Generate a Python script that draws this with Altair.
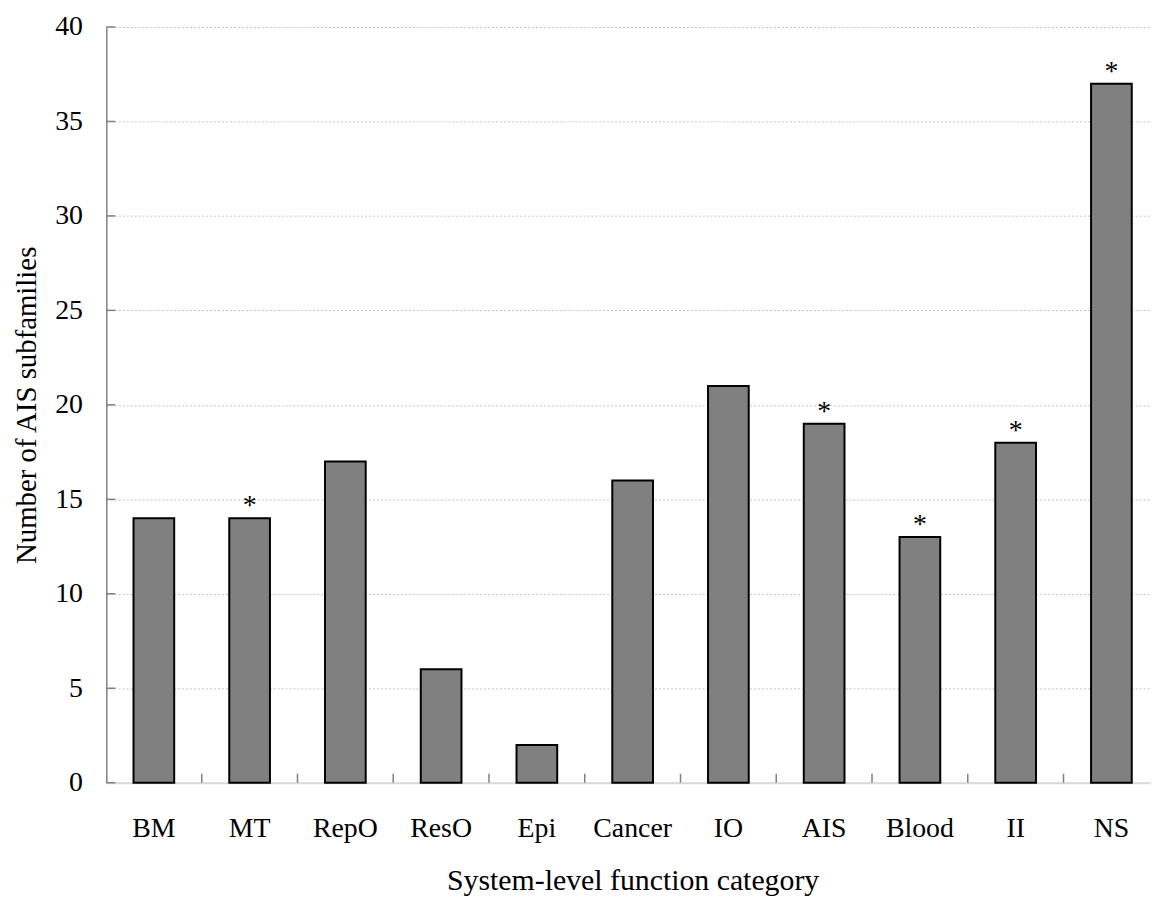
import altair as alt
import pandas as pd

categories = ["BM", "MT", "RepO", "ResO", "Epi", "Cancer", "IO", "AIS", "Blood", "II", "NS"]
counts = [14, 14, 17, 6, 2, 16, 21, 19, 13, 18, 37]
significant = [False, True, False, False, False, False, False, True, True, True, True]
y_ticks = [0, 5, 10, 15, 20, 25, 30, 35, 40]

df = pd.DataFrame({"category": categories, "count": counts, "sig": significant})
df["star"] = ["*" if s else "" for s in significant]
ticks_df = pd.DataFrame({"category": categories[:-1]})
yt_df = pd.DataFrame({"v": y_ticks})

FONT = "Liberation Serif"
W, H = 1052, 761

xscale = alt.Scale(domain=categories, range=[0, 1060], paddingInner=0.575, paddingOuter=0.284)
yscale = alt.Scale(domain=[0, 40], nice=False)

bars = alt.Chart(df).mark_bar(fill="#808080", stroke="black", strokeWidth=2).encode(
    x=alt.X("category:N", scale=xscale, sort=categories,
            axis=alt.Axis(title="System-level function category", labelAngle=0, tickSize=0,
                          domainColor="#d9d9d9", domainWidth=2, grid=False,
                          labelFont=FONT, labelFontSize=28, labelColor="black", labelPadding=32,
                          titleFont=FONT, titleFontSize=30, titleFontWeight="normal",
                          titleColor="black", titlePadding=24)),
    y=alt.Y("count:Q", scale=yscale,
            axis=alt.Axis(title="Number of AIS subfamilies", values=y_ticks, tickSize=0,
                          domainColor="#808080", domainWidth=1.5,
                          grid=True, gridColor="#c4c4c4", gridDash=[2, 2], gridWidth=1,
                          labelFont=FONT, labelFontSize=28, labelColor="black", labelPadding=24,
                          titleFont=FONT, titleFontSize=29, titleFontWeight="normal",
                          titleColor="black", titlePadding=13)),
)

stars = alt.Chart(df).transform_filter("datum.sig").mark_text(
    font=FONT, fontSize=28, color="black", baseline="alphabetic", dy=-4
).encode(
    x=alt.X("category:N", scale=xscale, sort=categories),
    y=alt.Y("count:Q", scale=yscale),
    text="star:N",
)

xticks = alt.Chart(ticks_df).mark_rule(color="#808080", strokeWidth=1.5, xOffset=48.2).encode(
    x=alt.X("category:N", scale=xscale, sort=categories),
    y=alt.value(H),
    y2=alt.value(H - 9),
)

yticks = alt.Chart(yt_df).mark_rule(color="#808080", strokeWidth=1.5).encode(
    y=alt.Y("v:Q", scale=yscale),
    x=alt.value(0),
    x2=alt.value(9),
)

chart = alt.layer(bars, xticks, yticks, stars).properties(
    width=W, height=H,
    autosize=alt.AutoSizeParams(type="none"),
    padding={"left": 99, "top": 16, "right": 0, "bottom": 116},
).configure_view(stroke=None)

chart.save("out.html", embed_options={"renderer": "svg", "actions": False})
